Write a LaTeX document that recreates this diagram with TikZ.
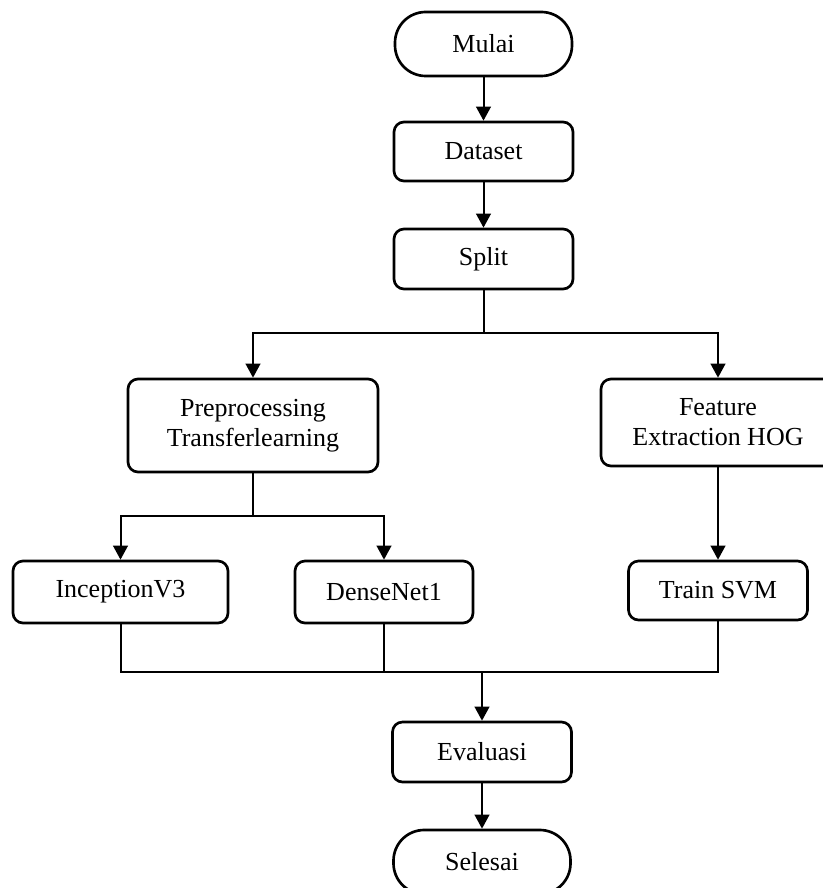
\documentclass[tikz,border=0pt]{standalone}
\usepackage{fontspec}
\setmainfont{Liberation Serif}
\usetikzlibrary{arrows.meta}

\begin{document}
\begin{tikzpicture}[x=0.75pt,y=0.75pt,yscale=-1,xscale=1,
    box/.style={draw,line width=2pt,rounded corners=7.5pt,align=center,
      font=\fontsize{19.5}{22.5}\selectfont,inner sep=0pt},
    terminal/.style={box,rounded corners=23pt},
    link/.style={line width=1.5pt},
    arrow/.style={link,-{Triangle[length=10.5pt,width=11pt]}}]
\clip (0,0) rectangle (823,888);
%Shape: Terminal [id:mulai]
\node [terminal,minimum width=132.75pt,minimum height=48pt] (mulai) at (483.5,44) {Mulai};
%Shape: Process [id:dataset]
\node [box,minimum width=134.25pt,minimum height=44.25pt] (dataset) at (483.5,151.5) {Dataset};
%Shape: Process [id:split]
\node [box,minimum width=134.25pt,minimum height=45pt] (split) at (483.5,259) {Split};
%Shape: Process [id:prep]
\node [box,minimum width=187.5pt,minimum height=69.75pt] (prep) at (253,425.5) {Preprocessing\\Transferlearning};
%Shape: Process [id:feat]
\node [box,minimum width=175.5pt,minimum height=65.25pt] (feat) at (718,422.5) {Feature\\Extraction HOG};
%Shape: Process [id:incep]
\node [box,minimum width=161.25pt,minimum height=46.5pt] (incep) at (120.5,592) {InceptionV3};
%Shape: Process [id:dense]
\node [box,minimum width=133.5pt,minimum height=46.5pt] (dense) at (384,592) {DenseNet1};
%Shape: Process [id:svm]
\node [box,minimum width=134.25pt,minimum height=44.25pt] (svm) at (718,590.5) {Train SVM};
%Shape: Process [id:eval]
\node [box,minimum width=134.25pt,minimum height=45pt] (eval) at (482,752) {Evaluasi};
%Shape: Terminal [id:selesai]
\node [terminal,minimum width=132.75pt,minimum height=48pt] (selesai) at (482,862) {Selesai};
% branch points
\coordinate (fork1) at (483.5,333);
\coordinate (fork2) at (253,516);
\coordinate (join) at (482,672);
% Connectors
\draw [arrow] (mulai) -- (dataset);
\draw [arrow] (dataset) -- (split);
\draw [link] (split) -- (fork1);
\draw [arrow] (fork1) -| (prep);
\draw [arrow] (fork1) -| (feat);
\draw [link] (prep) -- (fork2);
\draw [arrow] (fork2) -| (incep);
\draw [arrow] (fork2) -| (dense);
\draw [arrow] (feat) -- (svm);
\draw [link] (incep) |- (join);
\draw [link] (dense) |- (join);
\draw [link] (svm) |- (join);
\draw [arrow] (join) -- (eval);
\draw [arrow] (eval) -- (selesai);
\end{tikzpicture}
\end{document}
